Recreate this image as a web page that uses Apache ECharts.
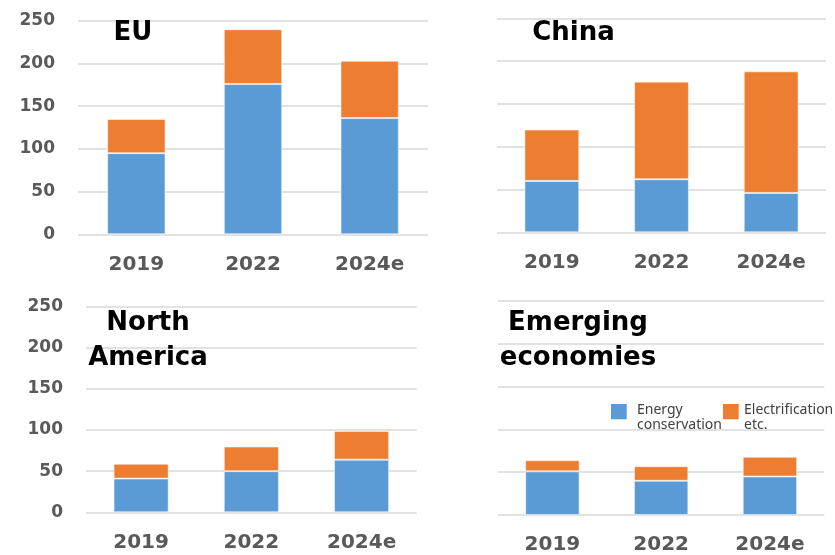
<!DOCTYPE html>
<html>
<head>
<meta charset="utf-8">
<script src="https://cdn.jsdelivr.net/npm/echarts@6/dist/echarts.min.js"></script>
<style>
html,body{margin:0;padding:0;background:#fff;}
#c{width:835px;height:555px;}
</style>
</head>
<body>
<div id="c"></div>
<script>
const categories = ['2019', '2022', '2024e'];
const seriesNames = ['Energy conservation', 'Electrification etc.'];
const legendLabels = ['Energy\nconservation', 'Electrification\netc.'];
const yTicks = [0, 50, 100, 150, 200, 250];
const regions = ['EU', 'China', 'North\nAmerica', 'Emerging\neconomies'];

const euConservation = [95, 176, 136];
const euElectrification = [40, 64, 67];
const chinaConservation = [60, 62, 46];
const chinaElectrification = [60, 114, 142];
const naConservation = [41, 50, 64];
const naElectrification = [18, 30, 35];
const emConservation = [51, 40, 45];
const emElectrification = [13, 17, 23];

const panelData = [
  [euConservation, euElectrification],
  [chinaConservation, chinaElectrification],
  [naConservation, naElectrification],
  [emConservation, emElectrification]
];

const COLORS = ['#5B9BD5', '#ED7D31'];
const FONT = 'DejaVu Sans';

const grids = [
  {left: 78, top: 20.7, width: 350, height: 213.6},
  {left: 497, top: 18.3, width: 329, height: 214},
  {left: 86, top: 306.7, width: 330.7, height: 205.6},
  {left: 498, top: 301, width: 326.3, height: 217.7}
];
const showY = [true, false, true, false];
const titlePos = [
  {x: 133, y: 16},
  {x: 573.5, y: 16},
  {x: 148, y: 305.5},
  {x: 578, y: 305.5}
];
const legendPos = [{x: 611, y: 404, tx: 637}, {x: 723, y: 404, tx: 744}];

const xAxes = [], yAxes = [], series = [], titles = [];
grids.forEach((g, i) => {
  xAxes.push({
    type: 'category', gridIndex: i, data: categories,
    axisLine: {show: false}, axisTick: {show: false},
    axisLabel: {fontFamily: FONT, fontWeight: 'bold', fontSize: 20, color: '#595959', margin: 20}
  });
  yAxes.push({
    type: 'value', gridIndex: i, min: yTicks[0], max: yTicks[yTicks.length - 1],
    interval: yTicks[1] - yTicks[0],
    axisLine: {show: false}, axisTick: {show: false},
    axisLabel: {show: showY[i], fontFamily: FONT, fontWeight: 'bold', fontSize: 17, color: '#595959', margin: 23},
    splitLine: {lineStyle: {color: '#d9d9d9', width: 1.5}}
  });
  panelData[i].forEach((vals, k) => {
    series.push({
      name: seriesNames[k], type: 'bar', xAxisIndex: i, yAxisIndex: i,
      stack: 'p' + i, data: vals, barWidth: '50%',
      itemStyle: {color: COLORS[k], borderColor: 'rgba(255,255,255,0.5)', borderWidth: 1},
      emphasis: {disabled: true}
    });
  });
  titles.push({
    text: regions[i], left: titlePos[i].x, top: titlePos[i].y, textAlign: 'center',
    padding: 0,
    textStyle: {fontFamily: FONT, fontWeight: 'bold', fontSize: 26, color: '#000', lineHeight: 35}
  });
});

const legendGraphics = [];
legendPos.forEach((p, k) => {
  legendGraphics.push({
    type: 'rect', left: p.x, top: p.y, shape: {width: 15.7, height: 15.3},
    style: {fill: COLORS[k]}, silent: true
  });
  legendGraphics.push({
    type: 'text', left: p.tx, top: p.y - 1,
    style: {text: legendLabels[k], fontFamily: 'Noto Sans', fontSize: 14, lineHeight: 15, fill: '#404040'},
    silent: true
  });
});

const chart = echarts.init(document.getElementById('c'), null, {renderer: 'canvas'});
chart.setOption({
  animation: false,
  backgroundColor: '#fff',
  title: titles,
  grid: grids,
  xAxis: xAxes,
  yAxis: yAxes,
  series: series,
  graphic: legendGraphics
});
</script>
</body>
</html>
